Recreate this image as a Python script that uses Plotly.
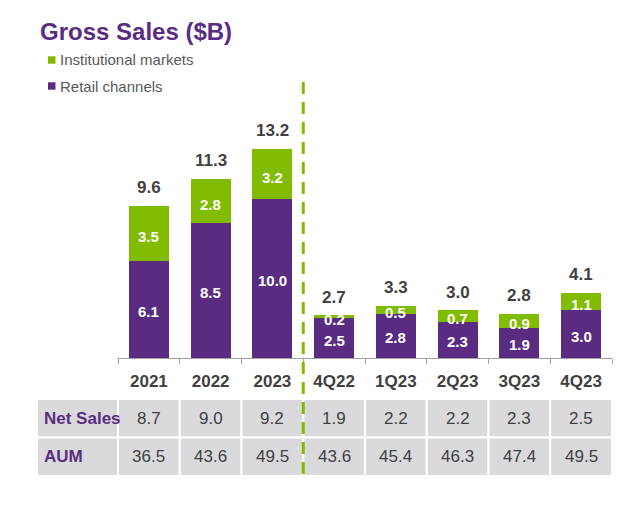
import plotly.graph_objects as go

# ---------------- data ----------------
categories = ["2021", "2022", "2023", "4Q22", "1Q23", "2Q23", "3Q23", "4Q23"]
retail = [6.1, 8.5, 10.0, 2.5, 2.8, 2.3, 1.9, 3.0]
institutional = [3.5, 2.8, 3.2, 0.2, 0.5, 0.7, 0.9, 1.1]
totals = [9.6, 11.3, 13.2, 2.7, 3.3, 3.0, 2.8, 4.1]
net_sales = [8.7, 9.0, 9.2, 1.9, 2.2, 2.2, 2.3, 2.5]
aum = [36.5, 43.6, 49.5, 43.6, 45.4, 46.3, 47.4, 49.5]
table_rows = [("Net Sales", net_sales), ("AUM", aum)]
title_text = "Gross Sales ($B)"
legend_items = [("Institutional markets", "inst"), ("Retail channels", "retail")]

# ---------------- style / layout ----------------
PAGE_OFF = 8                      # default body margin of the html page
W, H = 640 - PAGE_OFF, 520 - PAGE_OFF
ML, MR, MT, MB = 118 - PAGE_OFF, 28, 136 - PAGE_OFF, 162
PURPLE = "#592C82"
GREEN = "#82BC00"
DARK = "#404040"
CELL = "#DADADD"
FONT = "Liberation Sans, Arial, sans-serif"
colors = {"inst": GREEN, "retail": PURPLE}

plot_w = W - ML - MR
plot_h = H - MT - MB


def px_x(px):
    """page pixel x -> paper coordinate"""
    return (px - PAGE_OFF - ML) / plot_w


def px_y(py):
    """page pixel y -> paper coordinate"""
    return (H - MB - (py - PAGE_OFF)) / plot_h


n = len(categories)


def cat_edge(k):
    return k / n


def cat_center(k):
    return (k + 0.5) / n


fig = go.Figure()
fig.add_trace(go.Bar(x=categories, y=retail, name="Retail channels",
                     marker=dict(color=PURPLE, line=dict(width=0)),
                     showlegend=False, hoverinfo="x+y+name"))
fig.add_trace(go.Bar(x=categories, y=institutional, name="Institutional markets",
                     marker=dict(color=GREEN, line=dict(width=0)),
                     showlegend=False, hoverinfo="x+y+name"))

annotations = []
shapes = []

# labels inside bars + totals
for k, (r, i, t) in enumerate(zip(retail, institutional, totals)):
    annotations.append(dict(x=cat_center(k), y=r / 2, xref="paper", yref="y", text=f"{r:.1f}",
                            showarrow=False, xanchor="center", yanchor="middle", yshift=-2,
                            font=dict(family=FONT, size=15, color="white", weight="bold")))
    annotations.append(dict(x=cat_center(k), y=r + i / 2, xref="paper", yref="y", text=f"{i:.1f}",
                            showarrow=False, xanchor="center", yanchor="middle", yshift=-3,
                            font=dict(family=FONT, size=15, color="white", weight="bold")))
    annotations.append(dict(x=cat_center(k), y=t, xref="paper", yref="y", text=f"{t:.1f}",
                            showarrow=False, xanchor="center", yanchor="middle", yshift=18,
                            font=dict(family=FONT, size=17, color=DARK, weight="bold")))

# title
annotations.append(dict(x=px_x(38), y=px_y(32), xref="paper", yref="paper",
                        text=title_text, showarrow=False, xanchor="left", yanchor="middle",
                        font=dict(family=FONT, size=24, color=PURPLE, weight="bold")))

# custom legend
for k, (label, key) in enumerate(legend_items):
    yc = 60 + 26 * k
    shapes.append(dict(type="rect", xref="paper", yref="paper",
                       x0=px_x(48), x1=px_x(55.5), y0=px_y(yc + 3.7), y1=px_y(yc - 3.7),
                       fillcolor=colors[key], line=dict(width=0)))
    annotations.append(dict(x=px_x(58), y=px_y(yc), xref="paper", yref="paper",
                            text=label, showarrow=False, xanchor="left", yanchor="middle",
                            font=dict(family=FONT, size=15, color="#595959")))

# table
row_edges = [399, 437.5, 476]
for ri, (rlabel, vals) in enumerate(table_rows):
    y0 = px_y(row_edges[ri + 1])
    y1 = px_y(row_edges[ri])
    shapes.append(dict(type="rect", xref="paper", yref="paper",
                       x0=px_x(37), x1=cat_edge(0), y0=y0, y1=y1,
                       fillcolor=CELL, line=dict(color="white", width=2), layer="below"))
    annotations.append(dict(x=px_x(42), y=(y0 + y1) / 2, xref="paper", yref="paper",
                            text=rlabel, showarrow=False, xanchor="left", yanchor="middle",
                            font=dict(family=FONT, size=17, color=PURPLE, weight="bold")))
    for k, v in enumerate(vals):
        shapes.append(dict(type="rect", xref="paper", yref="paper",
                           x0=cat_edge(k), x1=cat_edge(k + 1), y0=y0, y1=y1,
                           fillcolor=CELL, line=dict(color="white", width=2), layer="below"))
        annotations.append(dict(x=cat_center(k), y=(y0 + y1) / 2, xref="paper", yref="paper",
                                text=f"{v:.1f}", showarrow=False,
                                xanchor="center", yanchor="middle",
                                font=dict(family=FONT, size=17, color=DARK)))

# dashed divider between annual and quarterly
shapes.append(dict(type="line", xref="paper", yref="paper",
                   x0=cat_edge(3), x1=cat_edge(3), y0=px_y(82), y1=px_y(476),
                   line=dict(color=GREEN, width=3, dash="12px,8px"), layer="above"))

fig.update_layout(
    width=W, height=H,
    margin=dict(l=ML, r=MR, t=MT, b=MB, autoexpand=False),
    paper_bgcolor="white", plot_bgcolor="white",
    barmode="stack", bargap=0.35,
    showlegend=False,
    annotations=annotations, shapes=shapes,
    xaxis=dict(type="category", range=[-0.5, n - 0.5], showgrid=False,
               showline=True, linecolor="#A0A0A0", linewidth=1,
               ticks="outside", tickson="boundaries", ticklen=5, tickcolor="#A0A0A0",
               ticklabelstandoff=8,
               tickfont=dict(family=FONT, size=17, color=DARK, weight="bold"),
               fixedrange=True),
    yaxis=dict(range=[0, 14], visible=False, showgrid=False, zeroline=False, fixedrange=True),
    font=dict(family=FONT),
)

fig.write_html("out.html")
